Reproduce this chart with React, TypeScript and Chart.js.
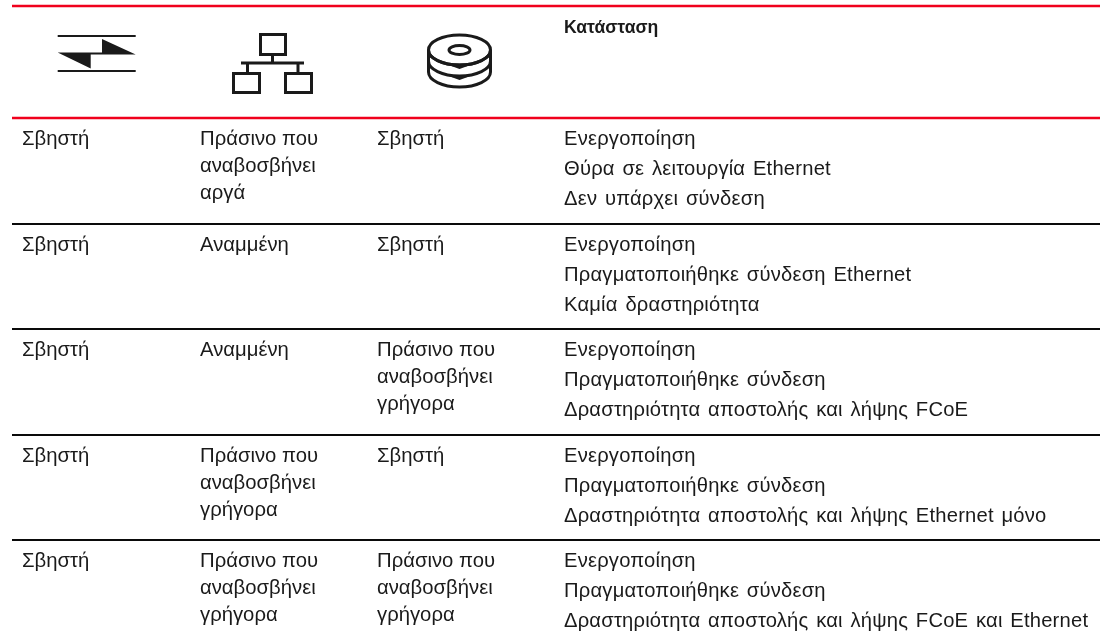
import React, { useEffect, useRef } from "react";
import { Chart, registerables } from "chart.js";

Chart.register(...registerables);

const col1 = ["Σβηστή", "Σβηστή", "Σβηστή", "Σβηστή", "Σβηστή"];
const col2 = [
  ["Πράσινο που", "αναβοσβήνει", "αργά"],
  ["Αναμμένη"],
  ["Αναμμένη"],
  ["Πράσινο που", "αναβοσβήνει", "γρήγορα"],
  ["Πράσινο που", "αναβοσβήνει", "γρήγορα"],
];
const col3 = [
  ["Σβηστή"],
  ["Σβηστή"],
  ["Πράσινο που", "αναβοσβήνει", "γρήγορα"],
  ["Σβηστή"],
  ["Πράσινο που", "αναβοσβήνει", "γρήγορα"],
];
const col4 = [
  ["Ενεργοποίηση", "Θύρα σε λειτουργία Ethernet", "Δεν υπάρχει σύνδεση"],
  ["Ενεργοποίηση", "Πραγματοποιήθηκε σύνδεση Ethernet", "Καμία δραστηριότητα"],
  ["Ενεργοποίηση", "Πραγματοποιήθηκε σύνδεση", "Δραστηριότητα αποστολής και λήψης FCoE"],
  ["Ενεργοποίηση", "Πραγματοποιήθηκε σύνδεση", "Δραστηριότητα αποστολής και λήψης Ethernet μόνο"],
  ["Ενεργοποίηση", "Πραγματοποιήθηκε σύνδεση", "Δραστηριότητα αποστολής και λήψης FCoE και Ethernet"],
];
const headerLabel = "Κατάσταση";
const redRules = [6, 118];
const blackRules = [224, 329, 435, 540];
const rowTops = [118, 224, 329, 435, 540];
const colX = [22, 200, 377, 564];

const ruleData = (y: number) => [{ x: 12, y }, { x: 1100, y }];

const tablePlugin = {
  id: "tablePlugin",
  afterDatasetsDraw(chart: any) {
    const { ctx, scales } = chart;
    const X = (v: number) => scales.x.getPixelForValue(v);
    const Y = (v: number) => scales.y.getPixelForValue(v);
    ctx.save();
    ctx.fillStyle = "#1a1a1a";
    ctx.textBaseline = "alphabetic";
    ctx.font = '20.3px "Liberation Sans"';
    rowTops.forEach((top, r) => {
      ctx.fillText(col1[r], X(colX[0]), Y(top + 26.5));
      [col2[r], col3[r]].forEach((lines, c) =>
        lines.forEach((t, i) => ctx.fillText(t, X(colX[c + 1]), Y(top + 26.5 + i * 27)))
      );
    });
    ctx.font = '20.2px "Liberation Sans"';
    ctx.wordSpacing = "1.9px";
    ctx.letterSpacing = "0.2px";
    rowTops.forEach((top, r) =>
      col4[r].forEach((t, i) => ctx.fillText(t, X(colX[3]), Y(top + 26.5 + i * 30)))
    );
    ctx.wordSpacing = "0px";
    ctx.letterSpacing = "0px";
    ctx.font = 'bold 17.6px "Liberation Sans"';
    ctx.fillText(headerLabel, X(colX[3]), Y(33));

    ctx.strokeStyle = "#1a1a1a";
    // icon: link
    ctx.lineWidth = 2;
    ctx.beginPath();
    ctx.moveTo(X(57.7), Y(36)); ctx.lineTo(X(135.7), Y(36));
    ctx.moveTo(X(57.7), Y(71)); ctx.lineTo(X(135.7), Y(71));
    ctx.stroke();
    ctx.beginPath();
    ctx.moveTo(X(102), Y(39)); ctx.lineTo(X(135.7), Y(54.5)); ctx.lineTo(X(90.7), Y(54.5));
    ctx.lineTo(X(90.7), Y(68.5)); ctx.lineTo(X(57.7), Y(52.5)); ctx.lineTo(X(102), Y(52.5));
    ctx.closePath();
    ctx.fill();
    // icon: network
    ctx.lineWidth = 3;
    ctx.strokeRect(X(260.5), Y(34.5), 25, 20);
    ctx.strokeRect(X(233.5), Y(73.5), 26, 19);
    ctx.strokeRect(X(285.5), Y(73.5), 26, 19);
    ctx.beginPath();
    ctx.moveTo(X(272.5), Y(55)); ctx.lineTo(X(272.5), Y(63));
    ctx.moveTo(X(241), Y(63)); ctx.lineTo(X(304), Y(63));
    ctx.moveTo(X(247.5), Y(63)); ctx.lineTo(X(247.5), Y(73));
    ctx.moveTo(X(298), Y(63)); ctx.lineTo(X(298), Y(73));
    ctx.stroke();
    // icon: disk
    ctx.lineWidth = 3;
    const cx = X(459.5);
    ctx.beginPath();
    ctx.ellipse(cx, Y(50), 31, 15, 0, 0, Math.PI * 2);
    ctx.stroke();
    ctx.beginPath();
    ctx.ellipse(cx, Y(50), 10.5, 4.5, 0, 0, Math.PI * 2);
    ctx.stroke();
    [50, 61, 72].forEach((cy, i) => {
      ctx.beginPath();
      ctx.ellipse(cx, Y(cy), 31, 15, 0, 0, Math.PI);
      ctx.stroke();
      if (i < 2) {
        ctx.beginPath();
        ctx.moveTo(cx - 11, Y(cy + 15));
        ctx.quadraticCurveTo(cx, Y(cy + 16), cx + 11, Y(cy + 15));
        ctx.lineTo(cx, Y(cy + 19));
        ctx.closePath();
        ctx.fill();
      }
    });
    ctx.beginPath();
    ctx.moveTo(cx - 31, Y(50)); ctx.lineTo(cx - 31, Y(72));
    ctx.moveTo(cx + 31, Y(50)); ctx.lineTo(cx + 31, Y(72));
    ctx.stroke();
    ctx.restore();
  },
};

export default function App() {
  const ref = useRef<HTMLCanvasElement>(null);
  useEffect(() => {
    document.body.style.margin = "0";
    document.body.style.background = "#fff";
    const chart = new Chart(ref.current!, {
      type: "line",
      data: {
        datasets: [
          ...redRules.map((y) => ({
            label: "red",
            data: ruleData(y),
            borderColor: "#f0001c",
            borderWidth: 2.6,
            pointRadius: 0,
          })),
          ...blackRules.map((y) => ({
            label: "black",
            data: ruleData(y),
            borderColor: "#0a0a0a",
            borderWidth: 2,
            pointRadius: 0,
          })),
        ],
      },
      options: {
        responsive: false,
        animation: false,
        layout: { padding: 0 },
        plugins: { legend: { display: false }, tooltip: { enabled: false }, title: { display: false } },
        scales: {
          x: { type: "linear", display: false, min: 0, max: 1100 },
          y: { type: "linear", display: false, min: 0, max: 641, reverse: true },
        },
      },
      plugins: [tablePlugin],
    });
    return () => chart.destroy();
  }, []);
  return <canvas ref={ref} width={1100} height={641} style={{ display: "block" }} />;
}
